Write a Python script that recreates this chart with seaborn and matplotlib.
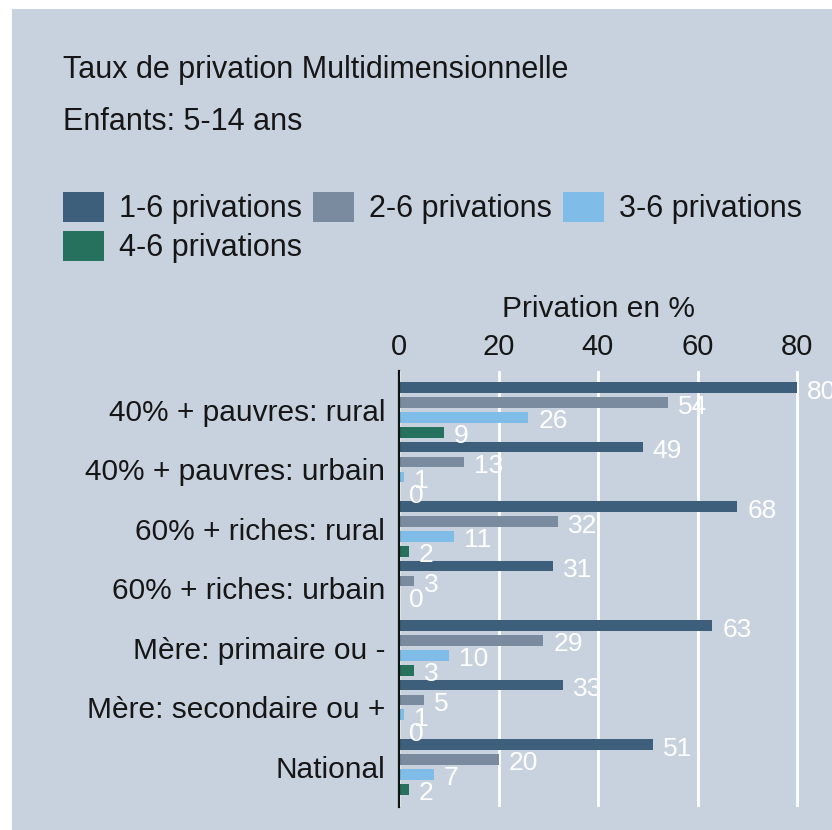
import numpy as np
import pandas as pd
import matplotlib
matplotlib.use("Agg")
import matplotlib.pyplot as plt
from matplotlib.patches import Rectangle, Patch
from matplotlib.transforms import blended_transform_factory
import seaborn as sns

# ---- data ----
categories = [
    "40% + pauvres: rural",
    "40% + pauvres: urbain",
    "60% + riches: rural",
    "60% + riches: urbain",
    "Mère: primaire ou -",
    "Mère: secondaire ou +",
    "National",
]
series = ["1-6 privations", "2-6 privations", "3-6 privations", "4-6 privations"]
priv_1_6 = [80, 49, 68, 31, 63, 33, 51]
priv_2_6 = [54, 13, 32, 3, 29, 5, 20]
priv_3_6 = [26, 1, 11, 0, 10, 1, 7]
priv_4_6 = [9, 0, 2, np.nan, 3, 0, 2]
xticks = [0, 20, 40, 60, 80]
title = "Taux de privation Multidimensionnelle"
subtitle = "Enfants: 5-14 ans"
xlabel = "Privation en %"

colors = ["#3d5f7c", "#7a8ba0", "#80bce8", "#26705e"]
bg = "#c8d2de"
txt = "#161616"

sns.set_theme(style="white")
plt.rcParams["font.family"] = ["Liberation Sans", "DejaVu Sans"]

df = pd.DataFrame({
    "categorie": categories * 4,
    "serie": np.repeat(series, len(categories)),
    "valeur": priv_1_6 + priv_2_6 + priv_3_6 + priv_4_6,
})

W, H = 832, 830
fig = plt.figure(figsize=(W / 100, H / 100), dpi=100, facecolor="white")
fig.patches.append(Rectangle((12 / W, 0), 1, 1 - 9 / H, transform=fig.transFigure,
                             facecolor=bg, edgecolor="none", zorder=-10))

ax_left, ax_top, ax_bot = 399, 371, 807
ax = fig.add_axes([ax_left / W, (H - ax_bot) / H, (W - ax_left) / W, (ax_bot - ax_top) / H])
ax.set_facecolor(bg)

sns.barplot(data=df, y="categorie", x="valeur", hue="serie", order=categories,
            hue_order=series, palette=colors, orient="h", width=1.0, gap=0.28,
            saturation=1, errorbar=None, legend=False, linewidth=0,
            edgecolor="none", ax=ax)

for cont in ax.containers:
    labels = [f"{p.get_width():.0f}" if np.isfinite(p.get_width()) else "" for p in cont]
    anns = ax.bar_label(cont, labels=labels, padding=0, color="white", fontsize=19)
    for a in anns:
        a.xyann = (7.2, -2.9)

px_per_unit = (797 - 399) / 80
ax.set_xlim(0, (W - ax_left) / px_per_unit)
ax.set_ylim(6.675, -0.655)
ax.set_xticks(xticks)
ax.xaxis.tick_top()
ax.tick_params(axis="x", length=0, pad=7, labelsize=21, colors=txt)
ax.tick_params(axis="y", length=0, pad=10, labelsize=21.5, colors=txt)
ax.grid(axis="x", color="white", lw=2)
ax.grid(axis="y", visible=False)
ax.set_axisbelow(True)
for s in ["top", "right", "bottom"]:
    ax.spines[s].set_visible(False)
ax.spines["left"].set_color("#111111")
ax.spines["left"].set_linewidth(1.6)
ax.set_xlabel("")
ax.set_ylabel("")

trans = blended_transform_factory(ax.transData, ax.transAxes)
ax.text(40, 1 + 54 / (ax_bot - ax_top), xlabel, transform=trans, ha="center",
        va="baseline", fontsize=21.5, color=txt, clip_on=False)

fig.text(63 / W, 1 - 78 / H, title, fontsize=22, va="baseline", color=txt)
fig.text(63 / W, 1 - 130 / H, subtitle, fontsize=22, va="baseline", color=txt)

handles = [Patch(facecolor=c, edgecolor="none") for c in colors]
order = [0, 3, 1, 2]
fig.legend([handles[i] for i in order], [series[i] for i in order], ncol=3,
           loc="upper left", bbox_to_anchor=(63 / W, 1 - 192 / H), frameon=False,
           fontsize=22, borderpad=0, borderaxespad=0, handlelength=1.34,
           handleheight=1.14, handletextpad=0.49, columnspacing=0.36,
           labelspacing=0.2, labelcolor=txt)

fig.savefig("out.png", dpi=100, facecolor="white")
